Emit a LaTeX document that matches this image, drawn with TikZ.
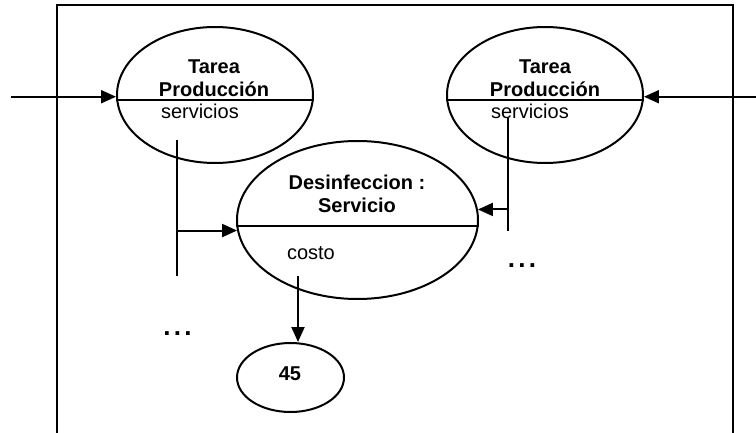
\documentclass[tikz,border=0pt]{standalone}
\usepackage{fontspec}
\setmainfont{Liberation Sans}
\usetikzlibrary{arrows.meta,shapes.geometric}
\begin{document}
\begin{tikzpicture}[x=1pt,y=-1pt, line width=2pt,
  oval/.style={draw, ellipse, inner sep=0pt},
  txt/.style={font=\fontsize{20}{23}\selectfont, anchor=base, inner sep=0pt},
  btxt/.style={txt, font=\fontsize{20}{23}\selectfont\bfseries},
  dots/.style={txt, font=\fontsize{26}{26}\selectfont\bfseries},
  arr/.style={-{Triangle[length=15pt,width=13pt]}},
  frame/.style={line width=2pt}]
\useasboundingbox (0,0) rectangle (756,433);
% frame
\draw[frame] (57,434) -- (57,5) -- (733,5) -- (733,434);
% ellipses
\node[oval, minimum width=196pt, minimum height=136pt] (TL) at (215,95) {};
\node[oval, minimum width=196pt, minimum height=136pt] (TR) at (545,95) {};
\node[oval, minimum width=241pt, minimum height=158pt] (M) at (357.5,220) {};
\node[oval, minimum width=107pt, minimum height=69pt] (F) at (290.5,377.5) {};
% dividers
\draw (TL.183) -- (TL.-3);
\draw (TR.183) -- (TR.-3);
\draw (M.183.3) -- (M.-3.3);
% texts
\node[btxt] (tl1) at (214,74) {Tarea};
\node[btxt] (tl2) at (214,97) {Producción};
\node[txt, anchor=base west] (tls) at (160,119) {servicios};
\node[btxt] (tr1) at (545,74) {Tarea};
\node[btxt] (tr2) at (545,97) {Producción};
\node[txt, anchor=base west] (trs) at (490,119) {servicios};
\node[btxt] (m1) at (357,190) {Desinfeccion :};
\node[btxt] (m2) at (357,213) {Servicio};
\node[txt, anchor=base west] (mc) at (286,260) {costo};
\node[btxt] (f1) at (290,380) {45};
\node[dots] (dl) at (177.5,335) {.\kern3.3pt.\kern3.3pt.};
\node[dots] (dr) at (522,268) {.\kern3.3pt.\kern3.3pt.};
% incoming arrows
\coordinate (inL) at (11,0);
\coordinate (inR) at (757,0);
\draw[arr] (inL |- TL.181) -- (TL.181);
\draw[arr] (inR |- TR.-1) -- (TR.-1);
% left connector
\coordinate (l1) at (177,140);
\coordinate (l2) at (177,276);
\draw (l1) -- (l2);
\draw[arr] (l2 |- M.185.3) -- (M.185.3);
% right connector
\coordinate (r1) at (508,118);
\coordinate (r2) at (508,231);
\draw (r1) -- (r2);
\draw[arr] (r1 |- M.5.8) -- (M.5.8);
% cost arrow
\coordinate (c1) at (298,276);
\draw[arr] (c1) -- (c1 |- F.north);
\end{tikzpicture}
\end{document}
